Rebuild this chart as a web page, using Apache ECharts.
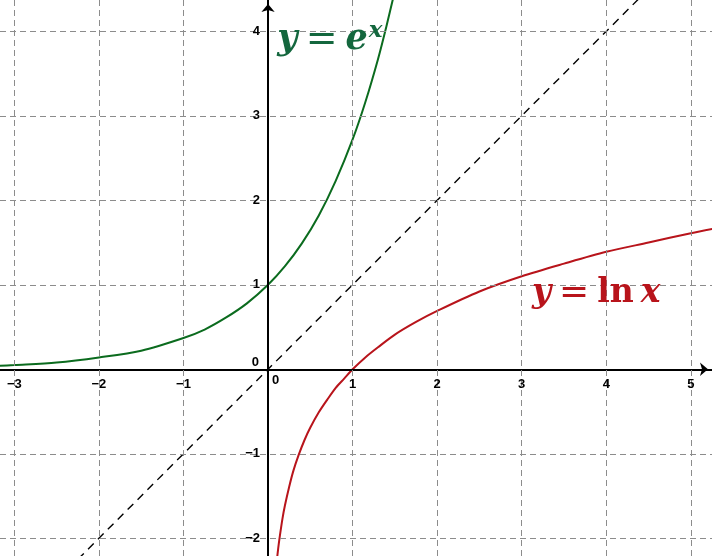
<!DOCTYPE html>
<html><head><meta charset="utf-8">
<script src="https://cdn.jsdelivr.net/npm/echarts@6/dist/echarts.min.js"></script>
<style>html,body{margin:0;padding:0;background:#fff}#c{width:712px;height:556px}</style>
</head><body><div id="c"></div>
<script>
// view extents
const xMin = -3.17, xMax = 5.25, yMin = -2.21, yMax = 4.37;
// grid line positions
const gridX = [-3, -2, -1, 1, 2, 3, 4, 5];
const gridY = [-2, -1, 1, 2, 3, 4];
// tick labels
const xTickVals = [-3, -2, -1, 1, 2, 3, 4, 5];
const xTickText = ['−3', '−2', '−1', '1', '2', '3', '4', '5'];
const yTickVals = [-2, -1, 1, 2, 3, 4];
const yTickText = ['−2', '−1', '1', '2', '3', '4'];
// y = e^x curve
const expX = [-3.2, -3, -2.5, -2, -1.5, -1, -0.75, -0.5, -0.25, 0, 0.2, 0.4, 0.6, 0.8, 1, 1.15, 1.3, 1.4, 1.5];
const expY = [0.04, 0.05, 0.08, 0.14, 0.22, 0.37, 0.47, 0.61, 0.78, 1, 1.22, 1.49, 1.82, 2.23, 2.72, 3.16, 3.67, 4.06, 4.48];
// y = ln x curve
const lnX = [0.1, 0.12, 0.14, 0.17, 0.2, 0.25, 0.3, 0.36, 0.43, 0.5, 0.6, 0.7, 0.8, 0.9, 1, 1.15, 1.3, 1.5, 1.75, 2, 2.5, 3, 3.5, 4, 4.5, 5, 5.3];
const lnY = [-2.3, -2.12, -1.97, -1.77, -1.61, -1.39, -1.2, -1.02, -0.84, -0.69, -0.51, -0.36, -0.22, -0.11, 0, 0.14, 0.26, 0.41, 0.56, 0.69, 0.92, 1.1, 1.25, 1.39, 1.5, 1.61, 1.67];
// y = x diagonal
const diagX = [-3.3, 5.3];
const diagY = [-3.3, 5.3];

const zip = (a, b) => a.map((v, i) => [v, b[i]]);
const tickFont = {fontFamily: 'Liberation Sans', fontWeight: 'bold', fontSize: 13, color: '#000'};
const solid = {opacity: 1};

const chart = echarts.init(document.getElementById('c'), null, {renderer: 'canvas'});
chart.setOption({
  animation: false,
  backgroundColor: '#fff',
  grid: {left: 0, right: 0, top: 0, bottom: 0, containLabel: false},
  xAxis: {
    type: 'value', min: xMin, max: xMax, z: 4,
    axisLine: {show: true, onZero: true, lineStyle: {color: '#000', width: 2}, symbol: ['none', 'arrow'], symbolSize: [10, 8], symbolOffset: [0, -4]},
    axisTick: {show: false}, axisLabel: {show: false}, splitLine: {show: false}
  },
  yAxis: {
    type: 'value', min: yMin, max: yMax, z: 4,
    axisLine: {show: true, onZero: true, lineStyle: {color: '#000', width: 2}, symbol: ['none', 'arrow'], symbolSize: [10, 8], symbolOffset: [0, -4]},
    axisTick: {show: false}, axisLabel: {show: false}, splitLine: {show: false}
  },
  series: [
    {
      type: 'line', data: [], silent: true, z: 1,
      markLine: {
        silent: true, symbol: 'none', animation: false,
        label: {show: false},
        lineStyle: {color: '#8c8c8c', width: 1, type: [6, 4], opacity: 1},
        data: gridX.map(v => ({xAxis: v})).concat(gridY.map(v => ({yAxis: v})))
      }
    },
    {
      type: 'line', data: zip(diagX, diagY), showSymbol: false, silent: true, z: 2,
      lineStyle: {color: '#000', width: 1.4, type: [8, 6]}
    },
    {
      type: 'line', data: zip(expX, expY), smooth: 0.3, showSymbol: false, silent: true, z: 3,
      lineStyle: {color: '#0b6b1e', width: 2}
    },
    {
      type: 'line', data: zip(lnX, lnY), smooth: 0.3, showSymbol: false, silent: true, z: 3,
      lineStyle: {color: '#b8141b', width: 2}
    },
    {
      type: 'scatter', symbolSize: 0, silent: true, z: 5, itemStyle: solid,
      data: xTickVals.map((v, i) => ({value: [v, 0], name: xTickText[i]})),
      label: Object.assign({show: true, position: 'bottom', distance: 9, formatter: p => p.name}, tickFont)
    },
    {
      type: 'scatter', symbolSize: 0, silent: true, z: 5, itemStyle: solid,
      data: yTickVals.map((v, i) => ({value: [0, v], name: yTickText[i]})),
      label: Object.assign({show: true, position: 'left', distance: 8, formatter: p => p.name}, tickFont)
    },
    {
      type: 'scatter', symbolSize: 0, silent: true, z: 5, itemStyle: solid,
      data: [{value: [0, 0], name: '0'}],
      label: Object.assign({show: true, position: 'insideBottomRight', offset: [-4, 5], formatter: p => p.name}, tickFont)
    },
    {
      type: 'scatter', symbolSize: 0, silent: true, z: 5, itemStyle: solid,
      data: [{value: [0, 0], name: '0'}],
      label: Object.assign({show: true, position: 'insideTopLeft', offset: [-1, 0], formatter: p => p.name}, tickFont)
    },
    {
      type: 'scatter', symbolSize: 0, silent: true, z: 6, itemStyle: solid,
      data: [{value: [0.11, 3.9], name: 'exp'}],
      label: {
        show: true, position: 'right', distance: 0,
        formatter: '{v|y}{o|=}{v|e}{s|x}',
        rich: {
          v: {fontFamily: 'DejaVu Serif', fontStyle: 'italic', fontWeight: 'bold', fontSize: 35, color: '#14673e'},
          o: {fontFamily: 'DejaVu Sans', fontWeight: 'normal', fontSize: 38, color: '#14673e', padding: [0, 8, 0, 8]},
          s: {fontFamily: 'DejaVu Serif', fontStyle: 'italic', fontWeight: 'bold', fontSize: 23, color: '#14673e', verticalAlign: 'top', padding: [0, 0, 17, 1]}
        }
      }
    },
    {
      type: 'scatter', symbolSize: 0, silent: true, z: 6, itemStyle: solid,
      data: [{value: [3.12, 0.9], name: 'ln'}],
      label: {
        show: true, position: 'right', distance: 0,
        formatter: '{v|y}{o|=}{l|ln}{v|x}',
        rich: {
          v: {fontFamily: 'DejaVu Serif', fontStyle: 'italic', fontWeight: 'bold', fontSize: 33, color: '#b8141b'},
          o: {fontFamily: 'DejaVu Sans', fontWeight: 'normal', fontSize: 36, color: '#b8141b', padding: [0, 8, 0, 8]},
          l: {fontFamily: 'DejaVu Serif', fontWeight: 'bold', fontSize: 33, color: '#b8141b', padding: [0, 7, 0, 0]}
        }
      }
    }
  ]
});
</script></body></html>
